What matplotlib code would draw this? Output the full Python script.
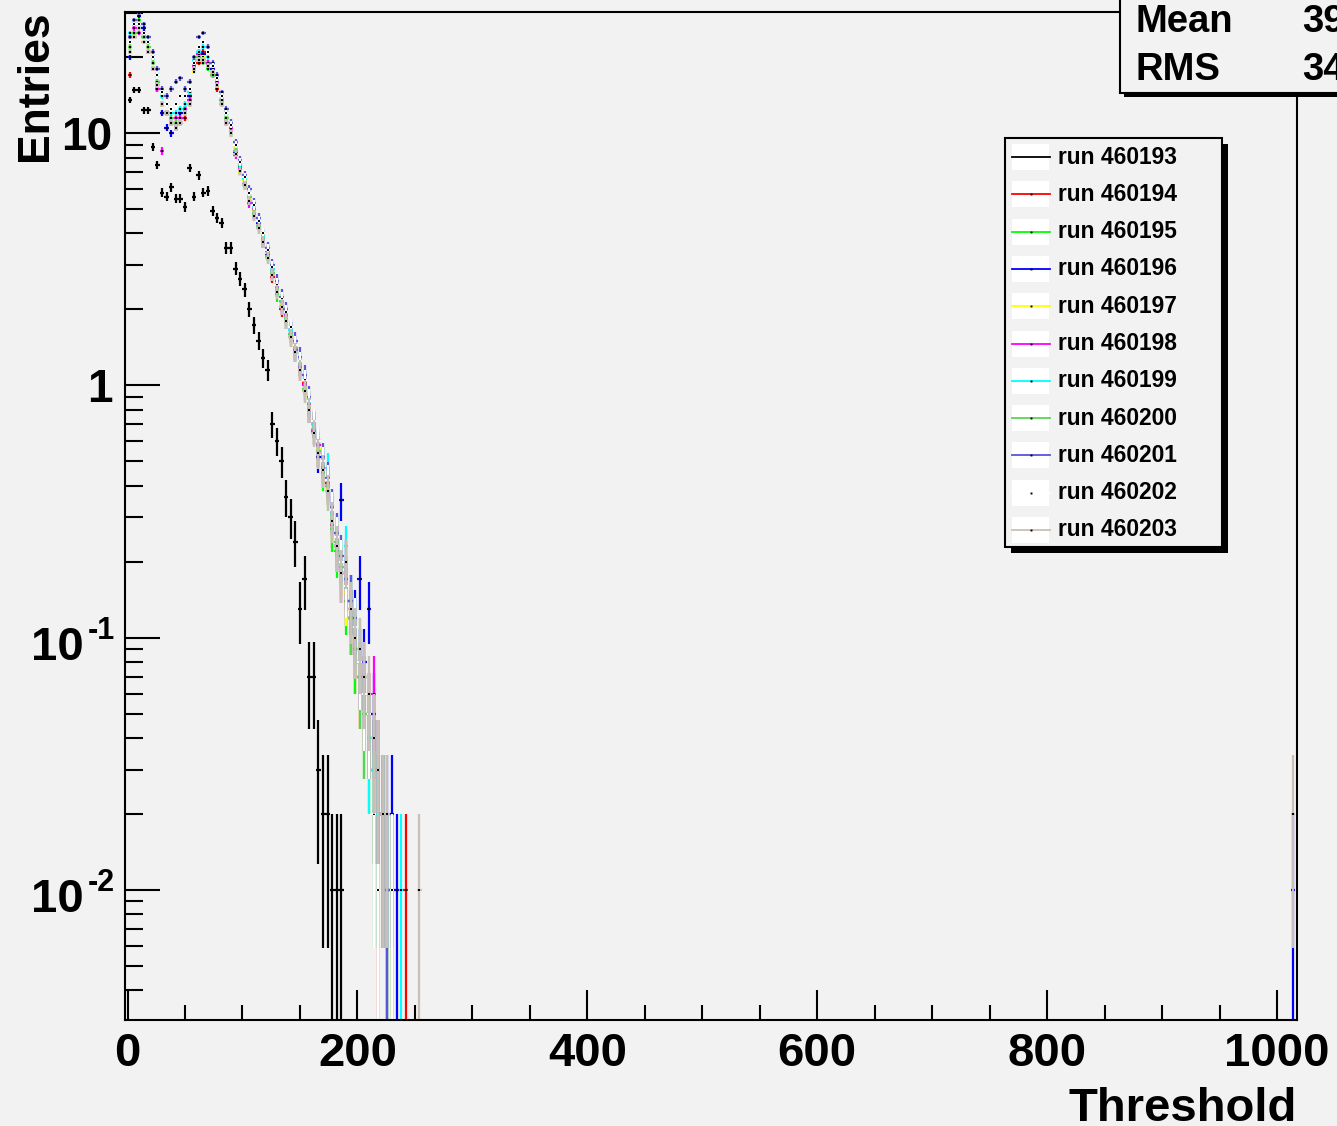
import numpy as np
import matplotlib
matplotlib.use('Agg')
import matplotlib.pyplot as plt
from matplotlib.patches import Rectangle
from matplotlib.lines import Line2D
from matplotlib.ticker import MultipleLocator, FixedLocator, NullFormatter
from matplotlib.transforms import offset_copy

plt.rcParams['font.family'] = ['Liberation Sans', 'DejaVu Sans']
plt.rcParams['font.weight'] = 'bold'

# ---------------- data ----------------
run_labels = ['run 460193', 'run 460194', 'run 460195', 'run 460196', 'run 460197',
              'run 460198', 'run 460199', 'run 460200', 'run 460201', 'run 460202',
              'run 460203']
run_colors = ['#000000', '#ff0000', '#00ff00', '#0000ff', '#ffff00',
              '#ff00ff', '#00ffff', '#59d454', '#5954d8', '#ffffff', '#c8c0b8']

bin_width = 4
bin_centers = np.arange(2, 262, 4)      # 65 bins, threshold 0..260
entry_weight = 0.01                     # each entry weighted 0.01 -> err = sqrt(v * w)
last_bin_center = 1014

run_460193 = [13.5, 14.8, 14.8, 12.3, 12.3, 8.8, 7.5, 5.8, 5.6, 6.1,
              5.5, 5.5, 5.1, 7.3, 5.6, 6.8, 5.8, 5.9, 4.9, 4.6,
              4.4, 3.5, 3.5, 2.9, 2.65, 2.4, 2.0, 1.73, 1.5, 1.28,
              1.15, 0.7, 0.6, 0.5, 0.36, 0.3, 0.24, 0.13, 0.17, 0.07,
              0.07, 0.03, 0.02, 0.02, 0.01, 0.01, 0.01, 0, 0, 0,
              0, 0, 0, 0, 0, 0, 0, 0, 0, 0, 0, 0, 0, 0, 0]
run_460194 = [17, 24, 27, 25, 21, 18, 15, 13, 12, 11,
              10.5, 11, 11.5, 13, 18, 19, 21, 18.5, 17, 15,
              14, 11, 10, 8.8, 7.0, 6.2, 5.6, 4.7, 4.4, 3.7,
              3.4, 2.7, 2.5, 2.0, 1.9, 1.55, 1.45, 1.15, 1.02, 0.80,
              0.70, 0.55, 0.46, 0.41, 0.28, 0.25, 0.18, 0.15, 0.12, 0.09,
              0.07, 0.06, 0.05, 0.03, 0.01, 0.02, 0, 0, 0, 0, 0.01, 0, 0, 0, 0]
run_460195 = [21, 25, 28, 24, 23, 19, 17, 14, 12, 11,
              11, 11, 12.5, 14, 19, 20, 19.5, 18, 17, 15.5,
              13, 12, 10, 8.4, 7.4, 6.2, 5.4, 5.0, 4.2, 3.9,
              3.2, 2.9, 2.3, 2.15, 1.8, 1.65, 1.35, 1.25, 0.95, 0.85,
              0.66, 0.58, 0.45, 0.38, 0.27, 0.22, 0.2, 0.14, 0.12, 0.09,
              0.09, 0.05, 0.04, 0.03, 0.02, 0.02, 0.01, 0.01, 0, 0, 0, 0, 0, 0, 0]
run_460196 = [20, 27, 29, 26, 23, 20, 16, 12, 10.5, 10,
              10.5, 12, 12.5, 14, 19, 21, 20.5, 19, 18, 16.5,
              13.5, 11.5, 10.5, 8.4, 7.3, 6.6, 5.4, 4.8, 4.4, 3.7,
              3.3, 2.9, 2.4, 2.1, 1.8, 1.65, 1.35, 1.2, 1.05, 0.8,
              0.7, 0.52, 0.5, 0.42, 0.32, 0.23, 0.35, 0.2, 0.14, 0.12,
              0.17, 0.08, 0.13, 0.05, 0.03, 0.02, 0.02, 0.02, 0.01, 0, 0, 0, 0, 0, 0]
run_460197 = [22, 25, 25, 23, 22, 18, 16, 14, 13, 12,
              11.5, 11.5, 12, 13, 17.5, 19.5, 20, 19, 17.5, 15.5,
              13, 11.5, 10.5, 8.8, 7.0, 6.5, 5.5, 4.9, 4.2, 3.8,
              3.2, 2.8, 2.35, 2.1, 1.85, 1.55, 1.4, 1.2, 0.98, 0.83,
              0.66, 0.56, 0.47, 0.39, 0.3, 0.25, 0.19, 0.15, 0.13, 0.1,
              0.07, 0.06, 0.05, 0.04, 0.03, 0.02, 0.01, 0.01, 0, 0, 0, 0, 0, 0, 0]
run_460198 = [24, 26, 25, 24, 21, 18, 15, 8.5, 12, 11,
              11.5, 11.5, 12.5, 13.5, 18.5, 20.5, 19.5, 19, 17, 16,
              13, 11, 10.5, 8.2, 7.3, 6.3, 5.3, 5.0, 4.3, 3.7,
              3.4, 2.75, 2.45, 2.05, 1.9, 1.6, 1.38, 1.18, 1.0, 0.84,
              0.66, 0.58, 0.47, 0.4, 0.31, 0.23, 0.18, 0.16, 0.12, 0.1,
              0.08, 0.06, 0.05, 0.06, 0.03, 0.02, 0.01, 0, 0, 0, 0, 0, 0, 0, 0]
run_460199 = [25, 27, 26, 25, 23, 20, 17, 14, 13, 12,
              12, 12.5, 13, 14.5, 19.5, 21, 22, 20, 18.5, 16.5,
              14, 12, 11, 9.0, 7.6, 6.6, 5.8, 5.1, 4.5, 3.9,
              3.5, 2.9, 2.5, 2.2, 1.95, 1.65, 1.45, 1.25, 1.05, 0.86,
              0.7, 0.6, 0.5, 0.47, 0.31, 0.26, 0.2, 0.23, 0.14, 0.11,
              0.08, 0.06, 0.04, 0.03, 0.02, 0.02, 0.01, 0, 0, 0.01, 0, 0, 0, 0, 0]
run_460200 = [22, 25, 27, 24, 22, 19, 16, 13, 12, 11.5,
              11, 11, 12, 13, 18, 20, 19, 18.5, 17, 15.5,
              13.5, 11.5, 10, 8.5, 7.1, 6.3, 5.6, 4.8, 4.3, 3.8,
              3.25, 2.8, 2.4, 2.05, 1.85, 1.6, 1.4, 1.2, 0.97, 0.8,
              0.67, 0.55, 0.48, 0.4, 0.29, 0.24, 0.19, 0.16, 0.12, 0.1,
              0.07, 0.05, 0.05, 0.02, 0.03, 0.02, 0.01, 0, 0, 0, 0, 0, 0, 0, 0]
run_460201 = [24, 28, 30, 27, 24, 21, 18, 15, 14, 15,
              16, 16.5, 15, 16, 20, 24, 25, 22, 19, 17,
              14.5, 12.5, 11, 9.2, 7.8, 6.8, 6.0, 5.3, 4.6, 4.0,
              3.5, 3.0, 2.6, 2.25, 2.0, 1.7, 1.5, 1.3, 1.1, 0.9,
              0.72, 0.6, 0.52, 0.43, 0.33, 0.26, 0.21, 0.17, 0.14, 0.11,
              0.08, 0.07, 0.05, 0.04, 0.03, 0.02, 0.01, 0.01, 0, 0, 0, 0, 0, 0, 0]
run_460202 = [23, 27, 27, 25, 23, 20, 17, 14.5, 13, 12.5,
              13, 14, 14, 15, 19, 22, 23, 21, 18.5, 16.5,
              14, 12, 10.8, 9.0, 7.7, 6.7, 5.8, 5.2, 4.5, 4.0,
              3.45, 2.95, 2.5, 2.2, 1.95, 1.7, 1.45, 1.25, 1.05, 0.87,
              0.72, 0.6, 0.5, 0.42, 0.32, 0.25, 0.2, 0.16, 0.13, 0.11,
              0.08, 0.06, 0.05, 0.02, 0.01, 0.02, 0.02, 0.01, 0, 0, 0, 0, 0, 0, 0]
run_460203 = [21, 24, 26, 23, 21, 18, 15.5, 13, 12, 11,
              10.5, 11, 12, 13, 18, 19.5, 19.5, 18.5, 17.5, 15.5,
              13, 11, 10, 8.3, 7.1, 6.2, 5.4, 4.7, 4.2, 3.7,
              3.2, 2.75, 2.35, 2.05, 1.8, 1.55, 1.35, 1.15, 0.95, 0.8,
              0.65, 0.54, 0.46, 0.38, 0.29, 0.23, 0.18, 0.2, 0.13, 0.1,
              0.09, 0.07, 0.06, 0.04, 0.03, 0.02, 0.02, 0, 0, 0, 0, 0, 0, 0.01, 0]
run_values = [run_460193, run_460194, run_460195, run_460196, run_460197, run_460198,
              run_460199, run_460200, run_460201, run_460202, run_460203]
last_bin_values = [0, 0, 0, 0.01, 0, 0, 0, 0, 0, 0, 0.02]

x_major_ticks = [0, 200, 400, 600, 800, 1000]
y_major_ticks = [0.01, 0.1, 1, 10]
y_plain_labels = ['', '', '1', '10']
y_pow_exponents = [(0.01, '-2'), (0.1, '-1')]
stats_names = ['Mean', 'RMS']
stats_values = ['39.57', '34.21']

# ---------------- figure ----------------
W, H = 1337, 1126
BG = '#f2f2f2'
fig = plt.figure(figsize=(W / 100, H / 100), dpi=100, facecolor=BG)


def fx(px):
    return px / W


def fy(py):
    return 1 - py / H


ax = fig.add_axes([fx(125), fy(1020), fx(1297) - fx(125), fy(12) - fy(1020)])
ax.set_facecolor(BG)
ax.set_yscale('log')
ax.set_xlim(-2.2, 1017.4)
ax.set_ylim(0.00305, 30.2)

LW = 1.6
for i, (label, color, vals, edge) in enumerate(zip(run_labels, run_colors, run_values, last_bin_values)):
    x = np.append(bin_centers.astype(float), last_bin_center)
    v = np.append(np.array(vals, dtype=float), edge)
    m = v > 0
    xv, vv = x[m], v[m]
    err = np.sqrt(vv * entry_weight)
    lo = np.clip(vv - err, 1e-6, None)
    ax.vlines(xv, lo, vv + err, colors=color, lw=LW, zorder=2 + i * 0.01)
    ax.hlines(vv, xv - bin_width / 2, xv + bin_width / 2, colors=color, lw=LW, zorder=2 + i * 0.01)
    if i > 0:
        ax.plot(xv, vv, ls='none', marker='s', ms=1.6, mew=0, color='black', zorder=2.005 + i * 0.01)

# axes styling
for s in ax.spines.values():
    s.set_linewidth(1.5)
    s.set_color('black')
ax.xaxis.set_major_locator(FixedLocator(x_major_ticks))
ax.xaxis.set_minor_locator(MultipleLocator(50))
ax.yaxis.set_major_locator(FixedLocator(y_major_ticks))
minor_y = [m * 10.0 ** e for e in range(-3, 2) for m in range(2, 10)]
ax.yaxis.set_minor_locator(FixedLocator(minor_y))
ax.yaxis.set_minor_formatter(NullFormatter())
ax.set_yticklabels(y_plain_labels)
ax.tick_params(axis='y', which='major', direction='in', length=25, width=1.5,
               labelsize=33, pad=9, left=True, right=False)
ax.tick_params(axis='y', which='minor', direction='in', length=13, width=1.5, left=True, right=False)
ax.tick_params(axis='x', which='major', direction='in', length=21.5, width=1.5,
               labelsize=34, pad=9, bottom=True, top=False)
ax.tick_params(axis='x', which='minor', direction='in', length=10.8, width=1.5, bottom=True, top=False)

# power-of-ten labels in ROOT style (short hyphen superscript)
ytr = ax.get_yaxis_transform()
base_tr = offset_copy(ytr, fig=fig, x=-41, y=-10, units='dots')
sup_tr = offset_copy(ytr, fig=fig, x=-37, y=7, units='dots')
for val, expo in y_pow_exponents:
    ax.text(0, val, '10', transform=base_tr, ha='right', va='center', fontsize=34,
            fontweight='bold', clip_on=False)
    ax.text(0, val, expo, transform=sup_tr, ha='left', va='center', fontsize=22,
            fontweight='bold', clip_on=False)

# axis titles
fig.text(fx(35), fy(10), 'Entries', rotation=90, ha='center', va='top', fontsize=32, fontweight='bold')
fig.text(fx(1297), fy(1121), 'Threshold', ha='right', va='baseline', fontsize=34, fontweight='bold')

# stats box
fig.add_artist(Rectangle((fx(1124), fy(97)), fx(1400) - fx(1124), fy(-20) - fy(97),
                         transform=fig.transFigure, facecolor='black', edgecolor='none', zorder=5))
fig.add_artist(Rectangle((fx(1120), fy(93)), fx(1400) - fx(1120), fy(-20) - fy(93),
                         transform=fig.transFigure, facecolor=BG, edgecolor='black', lw=1.5, zorder=6))
for k, (nm, val) in enumerate(zip(stats_names, stats_values)):
    yc = 22 + 48 * k
    fig.text(fx(1135), fy(yc), nm, ha='left', va='center', fontsize=27.5, fontweight='bold', zorder=7)
    fig.text(fx(1302), fy(yc), val, ha='left', va='center', fontsize=27.5, fontweight='bold', zorder=7)

# legend box
lx0, ly0, lx1, ly1 = 1005, 138, 1222, 547
fig.add_artist(Rectangle((fx(lx0 + 6), fy(ly1 + 6)), fx(lx1) - fx(lx0), fy(ly0) - fy(ly1),
                         transform=fig.transFigure, facecolor='black', edgecolor='none', zorder=5))
fig.add_artist(Rectangle((fx(lx0), fy(ly1)), fx(lx1) - fx(lx0), fy(ly0) - fy(ly1),
                         transform=fig.transFigure, facecolor=BG, edgecolor='black', lw=1.5, zorder=6))
row_step = (530 - 157) / 10
for k, (label, color) in enumerate(zip(run_labels, run_colors)):
    yc = 157 + row_step * k
    fig.add_artist(Rectangle((fx(1012), fy(yc + 13)), fx(1049) - fx(1012), fy(yc - 13) - fy(yc + 13),
                             transform=fig.transFigure, facecolor='white', edgecolor='none', zorder=7))
    fig.add_artist(Line2D([fx(1012), fx(1050)], [fy(yc), fy(yc)], transform=fig.transFigure,
                          color=color, lw=1.3, zorder=8))
    if k > 0:
        fig.add_artist(Line2D([fx(1031)], [fy(yc)], transform=fig.transFigure, ls='none',
                              marker='s', ms=1.4, mew=0, color='black', zorder=9))
    fig.text(fx(1058), fy(yc), label, ha='left', va='center', fontsize=16.4, fontweight='bold', zorder=9)

fig.savefig('out.png', dpi=100, facecolor=BG)
